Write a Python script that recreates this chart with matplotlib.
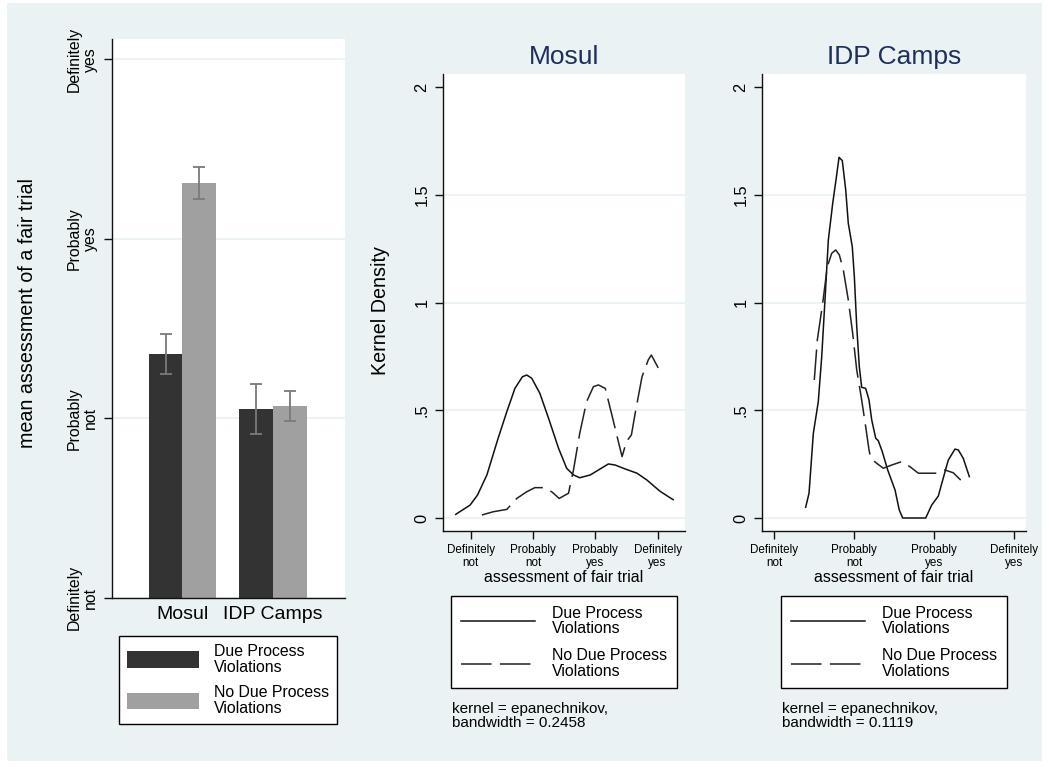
import matplotlib
matplotlib.use('Agg')
import matplotlib.pyplot as plt
import numpy as np
from matplotlib.patches import Rectangle, Patch
from matplotlib.lines import Line2D

plt.rcParams['font.family'] = ['Liberation Sans', 'DejaVu Sans']
plt.rcParams['lines.scale_dashes'] = False

W, H = 1049, 767
BG = '#EAF2F3'
NAVY = '#1E2F5C'
DARK = '#333333'
LIGHT = '#A0A0A0'
ERR = '#7A7A7A'

# ---------------- data ----------------
groups = ['Mosul', 'IDP Camps']
series = ['Due Process\nViolations', 'No Due Process\nViolations']
due_mean = [2.359, 2.051]
due_lo = [2.248, 1.915]
due_hi = [2.469, 2.190]
nodue_mean = [3.312, 2.070]
nodue_lo = [3.221, 1.984]
nodue_hi = [3.403, 2.153]
scale_values = [1, 2, 3, 4]
scale_labels = ['Definitely\nnot', 'Probably\nnot', 'Probably\nyes', 'Definitely\nyes']
density_ticks = [0, 0.5, 1, 1.5, 2]
density_labels = ['0', '.5', '1', '1.5', '2']

mosul_due_x = [0.76, 0.99, 1.11, 1.26, 1.44, 1.58, 1.71, 1.83, 1.90, 1.98, 2.11, 2.25,
               2.41, 2.54, 2.65, 2.75, 2.92, 3.05, 3.21, 3.32, 3.45, 3.67, 3.83, 4.04, 4.25]
mosul_due_y = [0.017, 0.060, 0.107, 0.200, 0.370, 0.494, 0.602, 0.656, 0.664, 0.649, 0.579, 0.463,
               0.324, 0.231, 0.200, 0.187, 0.200, 0.223, 0.251, 0.246, 0.231, 0.208, 0.176, 0.124, 0.085]
mosul_nodue_x = [1.18, 1.36, 1.58, 1.74, 1.90, 2.03, 2.17, 2.30, 2.42, 2.57, 2.65, 2.75, 2.86,
                 2.97, 3.05, 3.16, 3.26, 3.37, 3.43, 3.50, 3.58, 3.64, 3.75, 3.85, 3.90, 4.01]
mosul_nodue_y = [0.014, 0.029, 0.040, 0.091, 0.122, 0.141, 0.141, 0.122, 0.091, 0.115, 0.223, 0.393, 0.540,
                 0.610, 0.618, 0.602, 0.486, 0.355, 0.285, 0.355, 0.386, 0.486, 0.656, 0.734, 0.757, 0.697]

idp_due_x = [1.393, 1.435, 1.489, 1.551, 1.594, 1.635, 1.677, 1.732, 1.773, 1.811, 1.852, 1.895,
             1.927, 1.977, 2.003, 2.033, 2.065, 2.095, 2.145, 2.187, 2.221, 2.271, 2.303, 2.353,
             2.421, 2.513, 2.566, 2.609, 2.897, 2.972, 3.055, 3.110, 3.180, 3.264, 3.306, 3.368, 3.444]
idp_due_y = [0.050, 0.115, 0.393, 0.540, 0.749, 1.013, 1.291, 1.462, 1.570, 1.675, 1.660, 1.523,
             1.369, 1.260, 1.121, 0.889, 0.703, 0.607, 0.602, 0.548, 0.455, 0.370, 0.359, 0.308,
             0.223, 0.130, 0.037, 0.000, 0.000, 0.060, 0.102, 0.176, 0.269, 0.320, 0.316, 0.277, 0.192]
idp_nodue_x = [1.501, 1.539, 1.606, 1.664, 1.719, 1.769, 1.815, 1.865, 1.927, 1.982, 2.033, 2.095,
               2.145, 2.187, 2.208, 2.283, 2.366, 2.471, 2.597, 2.701, 2.805, 2.930, 3.035, 3.139,
               3.243, 3.336]
idp_nodue_y = [0.641, 0.827, 0.997, 1.167, 1.229, 1.245, 1.222, 1.152, 1.013, 0.858, 0.687, 0.548,
               0.424, 0.316, 0.277, 0.254, 0.231, 0.246, 0.262, 0.238, 0.208, 0.208, 0.208, 0.223,
               0.210, 0.176]

notes = ['kernel = epanechnikov,\nbandwidth = 0.2458', 'kernel = epanechnikov,\nbandwidth = 0.1119']


def px_rect(l, t, r, b):
    return [l / W, 1 - b / H, (r - l) / W, (b - t) / H]


fig = plt.figure(figsize=(W / 100, H / 100), dpi=100, facecolor='white')
fig.patches.append(Rectangle((7 / W, 1 - 761 / H), (1042 - 7) / W, (761 - 3) / H,
                             transform=fig.transFigure, facecolor=BG, edgecolor='none', zorder=-10))


def style_axes(ax):
    ax.set_facecolor('white')
    for s in ['top', 'right']:
        ax.spines[s].set_visible(False)
    for s in ['left', 'bottom']:
        ax.spines[s].set_color('#111111')
        ax.spines[s].set_linewidth(1.0)
    ax.yaxis.grid(True, color=BG, lw=1.3)
    ax.set_axisbelow(True)


# ---------------- panel 1: bars ----------------
ax1 = fig.add_axes(px_rect(111.7, 39, 345, 597.7))
style_axes(ax1)
x = np.arange(len(groups))
w = 0.3736
ax1.bar(x - w / 2, due_mean, w, color=DARK, zorder=2)
ax1.bar(x + w / 2, nodue_mean, w, color=LIGHT, zorder=2)
dm, nm = np.array(due_mean), np.array(nodue_mean)
ax1.errorbar(x - w / 2, dm, yerr=[dm - np.array(due_lo), np.array(due_hi) - dm], fmt='none',
             ecolor=ERR, elinewidth=1.3, capsize=4, capthick=1.3, zorder=3)
ax1.errorbar(x + w / 2, nm, yerr=[nm - np.array(nodue_lo), np.array(nodue_hi) - nm], fmt='none',
             ecolor=ERR, elinewidth=1.3, capsize=4, capthick=1.3, zorder=3)
ax1.set_xlim(-0.780, 1.791)
ax1.set_ylim(1, 4.114)
ax1.set_yticks(scale_values)
ax1.set_yticklabels(scale_labels, rotation=90, va='center', ha='right', multialignment='center',
                    fontsize=11.4, linespacing=1.08)
ax1.tick_params(axis='y', length=5.8, width=1, pad=4, color='#111111')
ax1.set_xticks(x)
ax1.set_xticklabels(groups, fontsize=14)
ax1.tick_params(axis='x', length=0, pad=6)
ax1.set_ylabel('mean assessment of a fair trial', fontsize=14.2, va='center')
ax1.yaxis.set_label_coords((28 - 111.7) / 233.3, (597.7 - 312.5) / 558.7)
leg1 = ax1.legend([Patch(facecolor=DARK), Patch(facecolor=LIGHT)], series,
                  loc='upper center', bbox_to_anchor=(0.5, (597.7 - 635.7) / 558.7), borderaxespad=0,
                  handlelength=4.56, handleheight=1.23, handletextpad=0.95, borderpad=0.5,
                  labelspacing=0.66, fontsize=11.4, frameon=True, fancybox=False,
                  edgecolor='black', framealpha=1)
leg1.get_frame().set_linewidth(1.0)
for t in leg1.get_texts():
    t.set_linespacing(1.08)


# ---------------- panels 2 and 3: kernel densities ----------------
def kde_panel(rect, xlim, title, xd, yd, xn, yn, note, note_x, ylabel=None):
    ax = fig.add_axes(rect)
    style_axes(ax)
    ax.plot(xd, yd, color='#111111', lw=1.1, zorder=3)
    ax.plot(xn, yn, color='#222222', lw=1.1, dashes=(22, 6), zorder=3)
    ax.set_xlim(*xlim)
    ax.set_ylim(-0.058, 2.062)
    ax.set_yticks(density_ticks)
    ax.set_yticklabels(density_labels, rotation=90, va='center', ha='right', fontsize=11.8)
    ax.tick_params(axis='y', length=5.6, width=1, pad=4, color='#111111')
    ax.set_xticks(scale_values)
    ax.set_xticklabels(scale_labels, fontsize=8.4, linespacing=1.15)
    ax.tick_params(axis='x', length=5.4, width=1, pad=4, color='#111111')
    lines = ax.get_ygridlines()
    lines[-1].set_visible(False)
    ax.set_title(title, fontsize=19, color=NAVY, pad=7)
    ax.set_xlabel('assessment of fair trial', fontsize=11.4, va='center')
    ax.xaxis.set_label_coords(0.5, (530.5 - 577) / 456.5)
    if ylabel:
        ax.set_ylabel(ylabel, fontsize=14.2, va='center')
        ax.yaxis.set_label_coords((380 - 442.7) / 242.3, (530.5 - 311) / 456.5)
    handles = [Line2D([], [], color='#111111', lw=1.1),
               Line2D([], [], color='#222222', lw=1.1, dashes=(22, 6))]
    leg = ax.legend(handles, series, loc='upper center',
                    bbox_to_anchor=(0.5, (530.5 - 596) / 456.5), borderaxespad=0,
                    handlelength=4.73, handletextpad=1.05, borderpad=0.6,
                    labelspacing=0.72, fontsize=11.4, frameon=True, fancybox=False,
                    edgecolor='black', framealpha=1)
    leg.get_frame().set_linewidth(1.0)
    for t in leg.get_texts():
        t.set_linespacing(1.08)
    ax.text(note_x, (530.5 - 716.3) / 456.5, note, transform=ax.transAxes, fontsize=11,
            ha='left', va='center', linespacing=0.97)
    return ax


ax2 = kde_panel(px_rect(442.7, 74, 685, 530.5), (0.5506, 4.44), 'Mosul',
                mosul_due_x, mosul_due_y, mosul_nodue_x, mosul_nodue_y,
                notes[0], (452.3 - 442.7) / 242.3, ylabel='Kernel Density')
ax3 = kde_panel(px_rect(761.7, 74, 1026, 530.5), (0.842, 4.154), 'IDP Camps',
                idp_due_x, idp_due_y, idp_nodue_x, idp_nodue_y,
                notes[1], (781.7 - 761.7) / 264.3)

fig.savefig('out.png', dpi=100, facecolor='white')
